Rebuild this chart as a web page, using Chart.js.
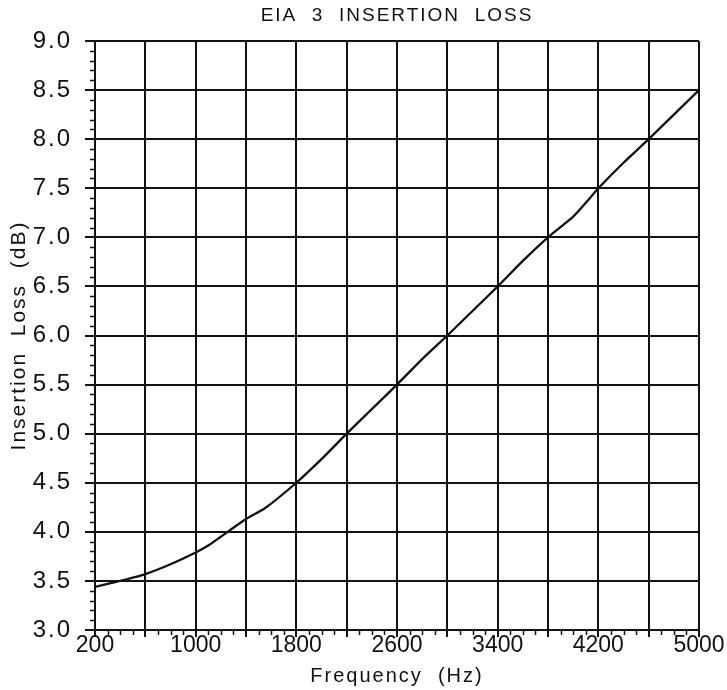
<!DOCTYPE html>
<html>
<head>
<meta charset="utf-8">
<script src="https://cdn.jsdelivr.net/npm/chart.js@4"></script>
<style>
  html, body { margin: 0; padding: 0; background: #fff; }
  #wrap { width: 727px; height: 690px; position: relative; }
</style>
</head>
<body>
<div id="wrap"><canvas id="c"></canvas></div>
<script>
// ---- Data ----
const chartTitle = 'EIA  3  INSERTION  LOSS';
const xTitle = 'Frequency  (Hz)';
const yTitle = 'Insertion  Loss  (dB)';

const frequencies = [200, 300, 400, 600, 800, 1000, 1100, 1200, 1400, 1550, 1800, 2000, 2200, 2400, 2600, 2800, 3000, 3200, 3400, 3600, 3800, 4000, 4120, 4200, 4400, 4600, 4800, 5000];
const lossDb      = [3.44, 3.47, 3.50, 3.57, 3.67, 3.79, 3.86, 3.95, 4.13, 4.24, 4.50, 4.74, 5.00, 5.25, 5.50, 5.76, 6.00, 6.25, 6.50, 6.76, 7.00, 7.21, 7.38, 7.50, 7.76, 8.00, 8.25, 8.50];

const xTickLabels = [200, 1000, 1800, 2600, 3400, 4200, 5000];
const xMin = 200, xMax = 5000, xMajorStep = 400, xMinorStep = 100;
const yMin = 3.0, yMax = 9.0, yMajorStep = 0.5, yMinorStep = 0.1;

const points = frequencies.map((f, i) => ({ x: f, y: lossDb[i] }));
const ink = '#111';

// wide, plotter-like lettering for titles and y labels (drawn before the datasets);
// x labels are drawn after the datasets without extra spacing
const letterSpacing = {
  id: 'letterSpacing',
  beforeDraw(chart) { chart.ctx.letterSpacing = '2px'; },
  beforeDatasetsDraw(chart) { chart.ctx.letterSpacing = '0px'; }
};

// minor ticks drawn through the scales
const minorTicks = {
  id: 'minorTicks',
  afterDraw(chart) {
    const ctx = chart.ctx;
    const xs = chart.scales.x, ys = chart.scales.y;
    ctx.save();
    ctx.strokeStyle = ink;
    ctx.lineWidth = 1.5;
    ctx.beginPath();
    for (let v = xMin; v <= xMax + 1e-6; v += xMinorStep) {
      if (Math.abs(((v - xMin) % xMajorStep)) < 1e-6) continue;
      const px = Math.round(xs.getPixelForValue(v)) + 0.5;
      ctx.moveTo(px, ys.bottom);
      ctx.lineTo(px, ys.bottom + 5);
    }
    for (let k = 0; k <= Math.round((yMax - yMin) / yMinorStep); k++) {
      if (k % 5 === 0) continue;
      const v = yMin + k * yMinorStep;
      const py = Math.round(ys.getPixelForValue(v)) + 0.5;
      ctx.moveTo(xs.left, py);
      ctx.lineTo(xs.left - 5, py);
    }
    ctx.stroke();
    ctx.restore();
  }
};

new Chart(document.getElementById('c'), {
  type: 'line',
  data: {
    datasets: [{
      data: points,
      borderColor: ink,
      borderWidth: 2.3,
      pointRadius: 0,
      tension: 0.2,
      fill: false
    }]
  },
  options: {
    responsive: true,
    maintainAspectRatio: false,
    animation: false,
    layout: { padding: { left: 0, right: 28, top: 0, bottom: 0 } },
    plugins: {
      legend: { display: false },
      tooltip: { enabled: false },
      title: {
        display: true,
        text: chartTitle,
        fullSize: false,
        color: ink,
        font: { family: 'Liberation Sans', size: 19, weight: 'normal', lineHeight: 1 },
        padding: { top: 6, bottom: 16 }
      }
    },
    scales: {
      x: {
        type: 'linear',
        min: xMin, max: xMax,
        afterFit(scale) { scale.height = 60; },
        afterBuildTicks(scale) {
          const t = [];
          for (let v = xMin; v <= xMax; v += xMajorStep) t.push({ value: v });
          scale.ticks = t;
        },
        ticks: {
          z: 1,
          autoSkip: false,
          maxRotation: 0,
          color: ink,
          padding: -3,
          font: { family: 'Liberation Sans', size: 23, lineHeight: 1 },
          callback: (v) => xTickLabels.includes(v) ? String(v) : ''
        },
        grid: { color: ink, lineWidth: 2, tickLength: 7, drawOnChartArea: true },
        border: { color: ink, width: 2 },
        title: {
          display: true, text: xTitle, color: ink,
          font: { family: 'Liberation Sans', size: 20, lineHeight: 1 },
          padding: { top: 0, bottom: 4 }
        }
      },
      y: {
        type: 'linear',
        min: yMin, max: yMax,
        afterFit(scale) { scale.width = 95; },
        ticks: {
          z: 0,
          stepSize: yMajorStep,
          color: ink,
          padding: 13,
          font: { family: 'Liberation Sans', size: 24, lineHeight: 1 },
          callback: (v) => Number(v).toFixed(1)
        },
        grid: { color: ink, lineWidth: 2, tickLength: 10 },
        border: { color: ink, width: 2 },
        title: {
          display: true, text: yTitle, color: ink,
          font: { family: 'Liberation Sans', size: 21, lineHeight: 1 },
          padding: { top: 9, bottom: 0 }
        }
      }
    }
  },
  plugins: [letterSpacing, minorTicks]
});
</script>
</body>
</html>
